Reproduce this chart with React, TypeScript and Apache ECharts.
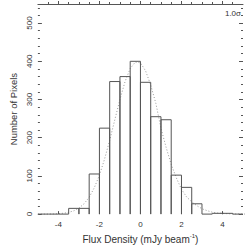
import React, { useEffect, useRef } from 'react';
import * as echarts from 'echarts';

// Histogram bins (mJy/beam) and pixel counts
const binLow = [-5, -4.5, -4, -3.5, -3, -2.5, -2, -1.5, -1, -0.5, 0, 0.5, 1, 1.5, 2, 2.5, 3, 3.5, 4, 4.5];
const binHigh = [-4.5, -4, -3.5, -3, -2.5, -2, -1.5, -1, -0.5, 0, 0.5, 1, 1.5, 2, 2.5, 3, 3.5, 4, 4.5, 5];
const pixelCounts = [0, 0, 0, 15, 15, 105, 225, 347, 360, 400, 345, 255, 247, 102, 70, 27, 0, 2, 2, 0];

// Dotted Gaussian fit curve
const fitX = [-5, -4.75, -4.5, -4.25, -4, -3.75, -3.5, -3.25, -3, -2.75, -2.5, -2.25, -2, -1.75, -1.5, -1.25, -1, -0.75, -0.5, -0.25, 0, 0.25, 0.5, 0.75, 1, 1.25, 1.5, 1.75, 2, 2.25, 2.5, 2.75, 3, 3.25, 3.5, 3.75, 4, 4.25, 4.5, 4.75, 5, 5.25];
const fitY = [0, 0.1, 0.2, 0.5, 1.1, 2.3, 4.5, 8.7, 15.7, 27, 44, 69, 102, 144, 193, 247, 300, 347, 381, 398, 396, 375, 338, 290, 225, 175, 130, 95, 65, 45, 32, 22, 14, 9, 5, 3, 2, 1, 0.5, 0.3, 0.2, 0.1];

// Tick values
const xLabelValues = [-4, -2, 0, 2, 4];
const xMinorValues = [-4.5, -4, -3.5, -3, -2.5, -2, -1.5, -1, -0.5, 0, 0.5, 1, 1.5, 2, 2.5, 3, 3.5, 4, 4.5];
const yLabelValues = [0, 100, 200, 300, 400, 500];
const yMinorValues: number[] = [];
for (let v = 20; v < 550; v += 20) if (v % 100 !== 0) yMinorValues.push(v);

const FONT = 'Liberation Sans, Arial, Helvetica, sans-serif';
const TXT = '#333';
const AX = '#555';

export default function App() {
  const ref = useRef<HTMLDivElement>(null);
  useEffect(() => {
    const chart = echarts.init(ref.current!, null, { renderer: 'svg' });
    const bins = binLow.map((lo, i) => [lo, binHigh[i], pixelCounts[i]]);
    const fit = fitX.map((x, i) => [x, fitY[i]]);
    const yBase = { type: 'value', min: 0, max: 550, splitLine: { show: false }, axisLine: { show: false, onZero: false } };
    chart.setOption({
      animation: false,
      grid: { left: 26, right: 6, top: 4, bottom: 26 },
      xAxis: [
        {
          type: 'value', position: 'bottom', min: -5, max: 5,
          axisLine: { show: false, onZero: false }, splitLine: { show: false },
          axisTick: { customValues: xLabelValues, inside: true, length: 3, lineStyle: { color: AX } },
          axisLabel: { customValues: xLabelValues, fontSize: 8, color: TXT, margin: 6, fontFamily: FONT },
          name: '{t|Flux Density (mJy beam}{s|-1}{t|)}',
          nameLocation: 'middle', nameGap: 14,
          nameTextStyle: {
            fontFamily: FONT, color: TXT,
            rich: {
              t: { fontSize: 10, fontFamily: FONT, color: TXT, lineHeight: 12 },
              s: { fontSize: 6, fontFamily: FONT, color: TXT, verticalAlign: 'top', lineHeight: 8 },
            },
          },
        },
        {
          type: 'value', position: 'top', min: -5, max: 5,
          axisLine: { show: true, onZero: false, lineStyle: { color: AX, width: 1 } }, splitLine: { show: false },
          axisTick: { customValues: xMinorValues, inside: false, length: 2, lineStyle: { color: AX } },
          axisLabel: { show: false },
        },
        {
          type: 'value', position: 'top', min: -5, max: 5,
          axisLine: { show: false, onZero: false }, splitLine: { show: false },
          axisTick: { customValues: xLabelValues, inside: false, length: 3, lineStyle: { color: AX } },
          axisLabel: { show: false },
        },
      ],
      yAxis: [
        {
          ...yBase, position: 'left',
          axisTick: { customValues: yLabelValues, inside: true, length: 4, lineStyle: { color: AX } },
          axisLabel: { customValues: yLabelValues, rotate: 90, fontSize: 8, color: TXT, margin: 4, fontFamily: FONT },
          name: 'Number of Pixels', nameLocation: 'middle', nameGap: 17, nameRotate: 90,
          nameTextStyle: { fontSize: 9.5, color: TXT, fontFamily: FONT },
        },
        {
          ...yBase, position: 'left',
          axisTick: { customValues: yMinorValues, inside: true, length: 2, lineStyle: { color: AX } },
          axisLabel: { show: false },
        },
        {
          ...yBase, position: 'right',
          axisTick: { customValues: yLabelValues, inside: true, length: 4, lineStyle: { color: AX } },
          axisLabel: { show: false },
        },
        {
          ...yBase, position: 'right',
          axisTick: { customValues: yMinorValues, inside: true, length: 2, lineStyle: { color: AX } },
          axisLabel: { show: false },
        },
      ],
      graphic: [
        {
          type: 'text', right: 8, top: 9,
          style: { text: '1.0σ', fontSize: 8, fill: TXT, fontFamily: FONT },
        },
      ],
      series: [
        {
          type: 'custom',
          xAxisIndex: 0, yAxisIndex: 0,
          data: bins,
          encode: { x: [0, 1], y: 2 },
          renderItem: (params: any, api: any) => {
            const x0 = api.value(0), x1 = api.value(1), c = api.value(2);
            const p0 = api.coord([x0, 0]);
            const p1 = api.coord([x0, c]);
            const p2 = api.coord([x1, c]);
            const p3 = api.coord([x1, 0]);
            return {
              type: 'polyline',
              shape: { points: [p0, p1, p2, p3] },
              style: { stroke: '#555', lineWidth: 1, fill: 'none' },
            };
          },
        },
        {
          type: 'line',
          xAxisIndex: 0, yAxisIndex: 0,
          data: fit,
          showSymbol: false,
          clip: false,
          lineStyle: { color: '#999', width: 1, type: [1, 2] },
          z: 1,
        },
      ],
    });
    return () => chart.dispose();
  }, []);
  return <div ref={ref} style={{ position: 'absolute', left: 0, top: 0, width: 249, height: 249 }} />;
}
